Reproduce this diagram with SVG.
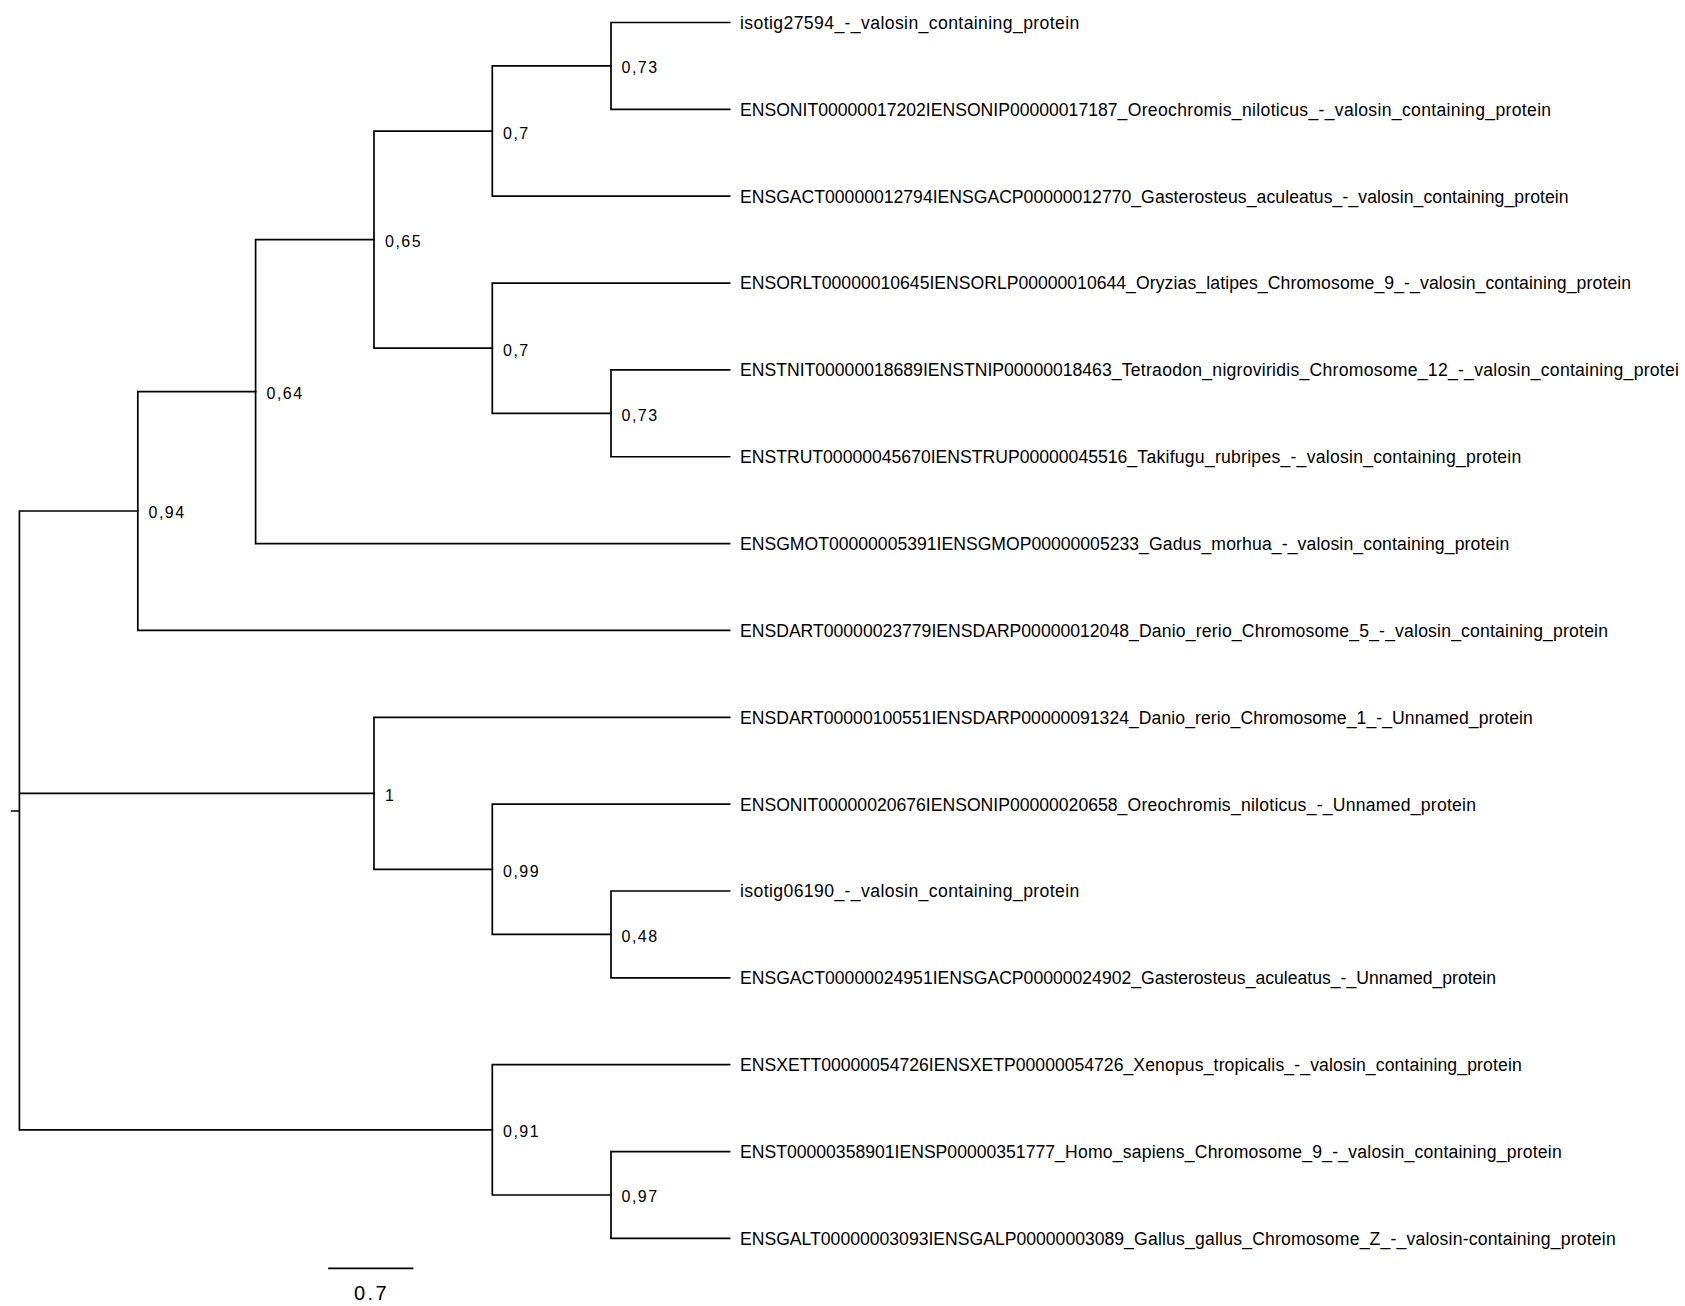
<svg xmlns="http://www.w3.org/2000/svg" width="1685" height="1306" viewBox="0 0 1685 1306">
<style>
.br{fill:none;stroke:#000;stroke-width:1.7;stroke-linecap:square}
.leaf{font-family:"Liberation Sans",Arial,Helvetica,sans-serif;font-size:17.6px;fill:#000}
.sup{font-family:"Liberation Sans",Arial,Helvetica,sans-serif;font-size:16px;letter-spacing:1.5px;fill:#000}
.scale{font-family:"Liberation Sans",Arial,Helvetica,sans-serif;font-size:20px;letter-spacing:2.4px;fill:#000}
</style>
<rect width="1685" height="1306" fill="#fff"/>
<g id="connectors">
<path class="br" d="M19.4 511V1129.8 M11.7 811H19.4 M19.4 511H137.8 M19.4 793.3H374 M19.4 1129.8H492.3"/>
<path class="br" d="M137.8 391.6V630.45 M137.8 391.6H255.6 M137.8 630.45H729.6"/>
<path class="br" d="M255.6 239.6V543.6 M255.6 239.6H374 M255.6 543.6H729.6"/>
<path class="br" d="M374 131.1V348.2 M374 131.1H492.3 M374 348.2H492.3"/>
<path class="br" d="M492.3 65.9V196.2 M492.3 65.9H611 M492.3 196.2H729.6"/>
<path class="br" d="M611 22.5V109.35 M611 22.5H729.6 M611 109.35H729.6"/>
<path class="br" d="M492.3 283.05V413.3 M492.3 283.05H729.6 M492.3 413.3H611"/>
<path class="br" d="M611 369.9V456.75 M611 369.9H729.6 M611 456.75H729.6"/>
<path class="br" d="M374 717.3V869.3 M374 717.3H729.6 M374 869.3H492.3"/>
<path class="br" d="M492.3 804.15V934.4 M492.3 804.15H729.6 M492.3 934.4H611"/>
<path class="br" d="M611 891V977.85 M611 891H729.6 M611 977.85H729.6"/>
<path class="br" d="M492.3 1064.7V1195 M492.3 1064.7H729.6 M492.3 1195H611"/>
<path class="br" d="M611 1151.55V1238.4 M611 1151.55H729.6 M611 1238.4H729.6"/>
</g>
<g id="leaf0"><text class="leaf" x="740" y="28.9" letter-spacing="0.4">isotig27594_-_valosin_containing_protein</text></g>
<g id="leaf1"><text class="leaf" x="740" y="115.75">ENSONIT00000017202IENSONIP00000017187<tspan letter-spacing="0.32">_Oreochromis_niloticus_-_valosin_containing_protein</tspan></text></g>
<g id="leaf2"><text class="leaf" x="740" y="202.6">ENSGACT00000012794IENSGACP00000012770<tspan letter-spacing="0.08">_Gasterosteus_aculeatus_-_valosin_containing_protein</tspan></text></g>
<g id="leaf3"><text class="leaf" x="740" y="289.45">ENSORLT00000010645IENSORLP00000010644<tspan letter-spacing="0.11">_Oryzias_latipes_Chromosome_9_-_valosin_containing_protein</tspan></text></g>
<g id="leaf4"><text class="leaf" x="740" y="376.3">ENSTNIT00000018689IENSTNIP00000018463<tspan letter-spacing="0.26">_Tetraodon_nigroviridis_Chromosome_12_-_valosin_containing_protei</tspan></text></g>
<g id="leaf5"><text class="leaf" x="740" y="463.15">ENSTRUT00000045670IENSTRUP00000045516<tspan letter-spacing="0.25">_Takifugu_rubripes_-_valosin_containing_protein</tspan></text></g>
<g id="leaf6"><text class="leaf" x="740" y="550">ENSGMOT00000005391IENSGMOP00000005233<tspan letter-spacing="0.13">_Gadus_morhua_-_valosin_containing_protein</tspan></text></g>
<g id="leaf7"><text class="leaf" x="740" y="636.85">ENSDART00000023779IENSDARP00000012048<tspan letter-spacing="0.18">_Danio_rerio_Chromosome_5_-_valosin_containing_protein</tspan></text></g>
<g id="leaf8"><text class="leaf" x="740" y="723.7">ENSDART00000100551IENSDARP00000091324<tspan letter-spacing="0.07">_Danio_rerio_Chromosome_1_-_Unnamed_protein</tspan></text></g>
<g id="leaf9"><text class="leaf" x="740" y="810.55">ENSONIT00000020676IENSONIP00000020658<tspan letter-spacing="0.24">_Oreochromis_niloticus_-_Unnamed_protein</tspan></text></g>
<g id="leaf10"><text class="leaf" x="740" y="897.4" letter-spacing="0.4">isotig06190_-_valosin_containing_protein</text></g>
<g id="leaf11"><text class="leaf" x="740" y="984.25">ENSGACT00000024951IENSGACP00000024902_Gasterosteus_aculeatus_-_Unnamed_protein</text></g>
<g id="leaf12"><text class="leaf" x="740" y="1071.1">ENSXETT00000054726IENSXETP00000054726<tspan letter-spacing="0.13">_Xenopus_tropicalis_-_valosin_containing_protein</tspan></text></g>
<g id="leaf13"><text class="leaf" x="740" y="1157.95">ENST00000358901IENSP00000351777<tspan letter-spacing="0.2">_Homo_sapiens_Chromosome_9_-_valosin_containing_protein</tspan></text></g>
<g id="leaf14"><text class="leaf" x="740" y="1244.8">ENSGALT00000003093IENSGALP00000003089<tspan letter-spacing="0.19">_Gallus_gallus_Chromosome_Z_-_valosin-containing_protein</tspan></text></g>
<g id="nodeA"><text class="sup" x="621.5" y="73.3">0,73</text></g>
<g id="nodeB"><text class="sup" x="503" y="138.5">0,7</text></g>
<g id="nodeE"><text class="sup" x="385" y="246.8">0,65</text></g>
<g id="nodeD"><text class="sup" x="503" y="355.5">0,7</text></g>
<g id="nodeC"><text class="sup" x="621.5" y="420.6">0,73</text></g>
<g id="nodeF"><text class="sup" x="266.5" y="398.9">0,64</text></g>
<g id="nodeG"><text class="sup" x="148.5" y="518.3">0,94</text></g>
<g id="nodeJ"><text class="sup" x="385" y="800.6">1</text></g>
<g id="nodeI"><text class="sup" x="503" y="876.6">0,99</text></g>
<g id="nodeH"><text class="sup" x="621.5" y="941.7">0,48</text></g>
<g id="nodeL"><text class="sup" x="503" y="1137.1">0,91</text></g>
<g id="nodeK"><text class="sup" x="621.5" y="1202.3">0,97</text></g>
<g id="scalebar">
<path class="br" d="M329 1268.3H412.5"/>
<text class="scale" x="354" y="1300">0.7</text>
</g>
</svg>
